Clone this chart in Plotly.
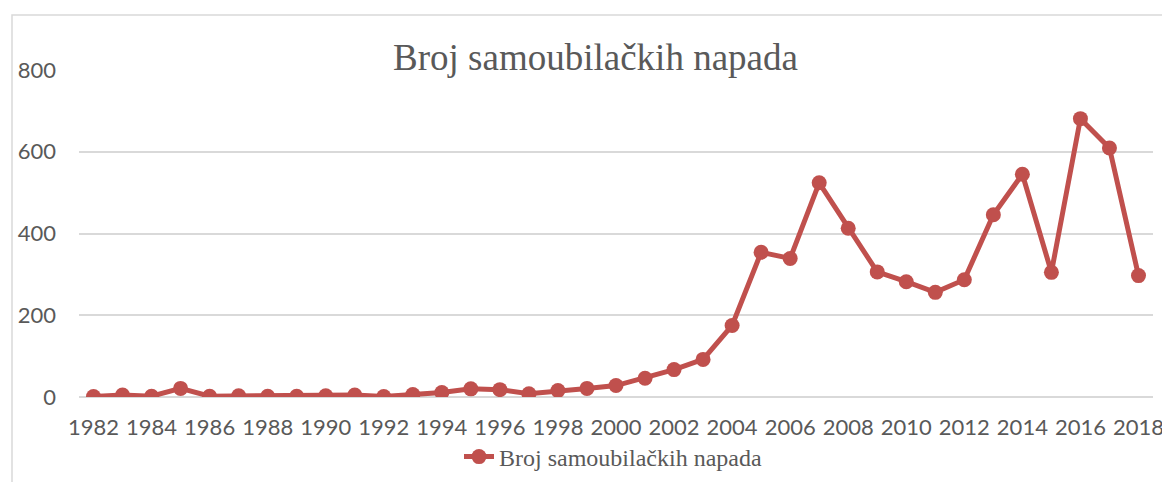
import plotly.graph_objects as go

years = list(range(1982, 2019))
attacks = [1, 5, 2, 21, 2, 3, 2, 2, 3, 5, 1, 6, 11, 20, 18, 8, 16, 21,
           28, 46, 67, 92, 175, 354, 339, 524, 413, 306, 282, 256, 287,
           446, 545, 305, 681, 609, 297]
x_ticks = list(range(1982, 2019, 2))
y_ticks = [0, 200, 400, 600, 800]
series_name = "Broj samoubilačkih napada"
title_text = "Broj samoubilačkih napada"

RED = "#C0504D"
GREY_TXT = "#595959"
GRID = "#D9D9D9"

# the page body has an 8px margin; work in page pixels and subtract it
OFF = 8
W, H = 1170 - OFF, 482 - OFF
plot_left, plot_right, plot_top, plot_bottom = 79, 1153, 70, 397
L = plot_left - OFF
T = plot_top - OFF
R = W - (plot_right - OFF)
B = H - (plot_bottom - OFF)
pw, ph = W - L - R, H - T - B


def px_x(px):
    return (px - plot_left) / pw


def px_y(py):
    return (plot_bottom - py) / ph


fig = go.Figure()
fig.add_trace(go.Scatter(
    x=years, y=attacks, mode="lines+markers", name=series_name,
    line=dict(color=RED, width=5),
    marker=dict(color=RED, size=15),
    showlegend=True,
))

fig.update_layout(
    width=W, height=H,
    margin=dict(l=L, r=R, t=T, b=B, autoexpand=False),
    paper_bgcolor="white", plot_bgcolor="white",
    title=dict(text=title_text, font=dict(family="Liberation Serif", size=37, color=GREY_TXT),
               xref="paper", x=px_x(595.5), xanchor="center",
               yref="container", y=1 - (57 - OFF) / H, yanchor="middle"),
    xaxis=dict(range=[1981.5, 2018.5], tickvals=x_ticks, ticktext=[str(v) for v in x_ticks],
               showgrid=False, zeroline=False, showline=False, ticks="",
               tickfont=dict(family="Lato", size=22, color=GREY_TXT),
               ticklabelstandoff=15),
    yaxis=dict(range=[0, 800], tickvals=y_ticks, showgrid=True, gridcolor=GRID, gridwidth=1.5,
               zeroline=True, zerolinecolor=GRID, zerolinewidth=1.5, showline=False, ticks="",
               tickfont=dict(family="Lato", size=22, color=GREY_TXT),
               ticklabelstandoff=22),
    legend=dict(orientation="h", x=px_x(613), xanchor="center", y=px_y(457), yanchor="middle",
                font=dict(family="Liberation Serif", size=24, color=GREY_TXT),
                bgcolor="rgba(0,0,0,0)"),
    shapes=[dict(type="rect", xref="paper", yref="paper",
                 x0=px_x(12), x1=px_x(1200), y0=px_y(15), y1=px_y(520),
                 line=dict(color=GRID, width=1.5), layer="below")],
)

fig.write_html("out.html")
